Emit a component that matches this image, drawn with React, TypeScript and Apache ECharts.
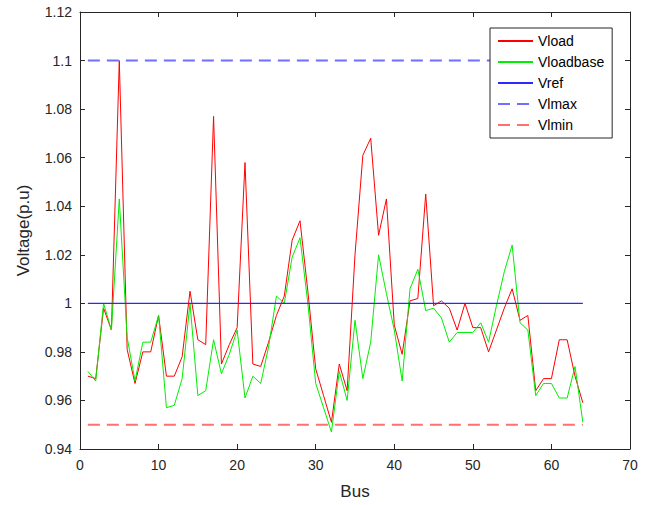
import React, { useEffect, useRef } from 'react';
import * as echarts from 'echarts';

const buses: number[] = Array.from({ length: 64 }, (_, i) => i + 1);

const vload: number[] = [
  0.970, 0.969, 0.998, 0.989, 1.100, 0.981, 0.967, 0.980, 0.980, 0.995,
  0.970, 0.970, 0.978, 1.005, 0.985, 0.983, 1.077, 0.975, 0.983, 0.990,
  1.058, 0.975, 0.974, 0.984, 0.995, 1.003, 1.026, 1.034, 1.005, 0.973,
  0.962, 0.951, 0.975, 0.964, 1.020, 1.061, 1.068, 1.028, 1.043, 0.991,
  0.979, 1.001, 1.002, 1.045, 0.999, 1.001, 0.998, 0.989, 1.000, 0.990,
  0.990, 0.980, 0.989, 0.998, 1.006, 0.993, 0.995, 0.964, 0.969, 0.969,
  0.985, 0.985, 0.970, 0.959,
];

const vloadbase: number[] = [
  0.972, 0.968, 1.000, 0.989, 1.043, 0.986, 0.968, 0.984, 0.984, 0.995,
  0.957, 0.958, 0.969, 1.000, 0.962, 0.964, 0.985, 0.971, 0.979, 0.989,
  0.961, 0.970, 0.967, 0.982, 1.003, 1.000, 1.019, 1.027, 1.000, 0.967,
  0.957, 0.947, 0.972, 0.960, 0.993, 0.969, 0.984, 1.020, 1.004, 0.989,
  0.968, 1.006, 1.014, 0.997, 0.998, 0.994, 0.984, 0.988, 0.988, 0.988,
  0.992, 0.984, 0.999, 1.013, 1.024, 0.992, 0.989, 0.962, 0.967, 0.967,
  0.961, 0.961, 0.974, 0.951,
];

const vref = 1.0;
const vlmax = 1.1;
const vlmin = 0.95;

const xMin = 0, xMax = 70, xInterval = 10;
const yMin = 0.94, yMax = 1.12, yInterval = 0.02;

const FONT = '"Liberation Sans", Arial, Helvetica, sans-serif';
const AX = '#262626';

export default function App() {
  const ref = useRef<HTMLDivElement>(null);
  useEffect(() => {
    if (!ref.current) return;
    const chart = echarts.init(ref.current, undefined, { renderer: 'svg' });
    const first = buses[0];
    const last = buses[buses.length - 1];
    const baseX = {
      type: 'value' as const, min: xMin, max: xMax, interval: xInterval,
      axisLine: { show: true, onZero: false, lineStyle: { color: AX, width: 1 } },
      axisTick: { show: true, inside: true, length: 5, lineStyle: { color: AX } },
      splitLine: { show: false },
    };
    const baseY = {
      type: 'value' as const, min: yMin, max: yMax, interval: yInterval,
      axisLine: { show: true, onZero: false, lineStyle: { color: AX, width: 1 } },
      axisTick: { show: true, inside: true, length: 5, lineStyle: { color: AX } },
      splitLine: { show: false },
    };
    const hidden = { color: 'rgba(0,0,0,0)', borderColor: 'rgba(0,0,0,0)', borderWidth: 0 };
    chart.setOption({
      animation: false,
      backgroundColor: '#ffffff',
      textStyle: { fontFamily: FONT },
      grid: { left: 80, right: 21, top: 12, bottom: 56, containLabel: false },
      legend: {
        orient: 'vertical', left: 490, top: 28,
        itemWidth: 35, itemHeight: 14, itemGap: 7,
        padding: [6, 8, 6, 7],
        borderColor: AX, borderWidth: 1, borderRadius: 0,
        backgroundColor: '#ffffff',
        itemStyle: hidden,
        textStyle: { fontSize: 14, color: '#000', fontFamily: FONT },
        data: [
          { name: 'Vload', itemStyle: hidden },
          { name: 'Vloadbase', itemStyle: hidden },
          { name: 'Vref', itemStyle: hidden },
          { name: 'Vlmax', itemStyle: hidden },
          { name: 'Vlmin', itemStyle: hidden },
        ],
      },
      xAxis: [
        {
          ...baseX, position: 'bottom',
          name: 'Bus', nameLocation: 'middle', nameGap: 34,
          nameTextStyle: { fontSize: 17, color: AX, fontFamily: FONT },
          axisLabel: { show: true, margin: 9, fontSize: 14, color: AX, fontFamily: FONT },
        },
        { ...baseX, position: 'top', axisLabel: { show: false } },
      ],
      yAxis: [
        {
          ...baseY, position: 'left',
          name: 'Voltage(p.u)', nameLocation: 'middle', nameGap: 48,
          nameTextStyle: { fontSize: 17, color: AX, fontFamily: FONT },
          axisLabel: {
            show: true, margin: 8, fontSize: 14, color: AX, fontFamily: FONT,
            formatter: (v: number) => String(+v.toFixed(2)),
          },
        },
        { ...baseY, position: 'right', axisLabel: { show: false } },
      ],
      series: [
        {
          name: 'Vload', type: 'line', symbol: 'none',
          data: buses.map((b, i) => [b, vload[i]]),
          lineStyle: { color: '#ff0000', width: 1 }, itemStyle: { color: '#ff0000' },
        },
        {
          name: 'Vloadbase', type: 'line', symbol: 'none',
          data: buses.map((b, i) => [b, vloadbase[i]]),
          lineStyle: { color: '#00ee00', width: 1 }, itemStyle: { color: '#00ee00' },
        },
        {
          name: 'Vref', type: 'line', symbol: 'none',
          data: [[first, vref], [last, vref]],
          lineStyle: { color: '#2a2aff', width: 1.2 }, itemStyle: { color: '#2a2aff' },
        },
        {
          name: 'Vlmax', type: 'line', symbol: 'none',
          data: [[first, vlmax], [last, vlmax]],
          lineStyle: { color: '#6f6fff', width: 2, type: [12, 7] }, itemStyle: { color: '#3b3bff' },
        },
        {
          name: 'Vlmin', type: 'line', symbol: 'none',
          data: [[first, vlmin], [last, vlmin]],
          lineStyle: { color: '#ff7070', width: 2, type: [12, 7] }, itemStyle: { color: '#ff3b3b' },
        },
      ],
    });
    return () => chart.dispose();
  }, []);
  return <div ref={ref} style={{ width: 651, height: 505, position: 'absolute', left: 0, top: 0 }} />;
}
